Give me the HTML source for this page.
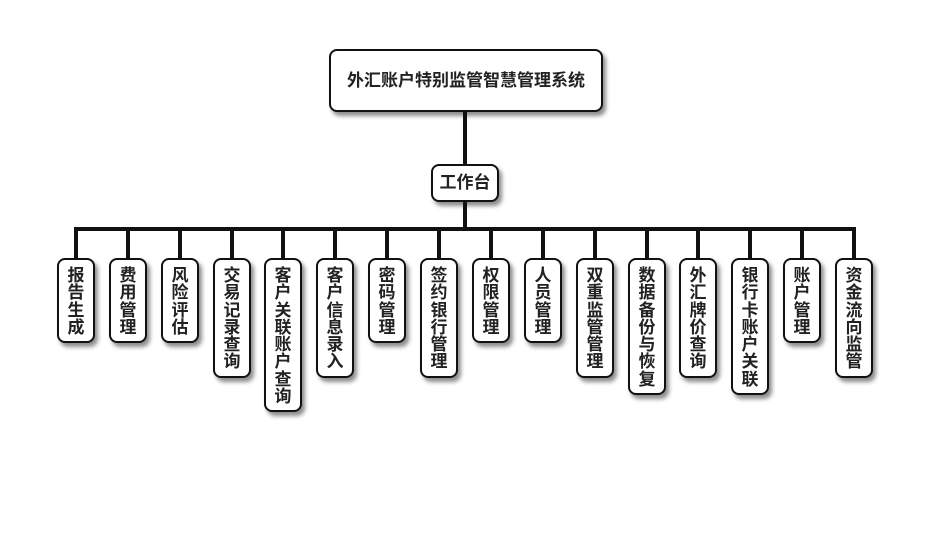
<!DOCTYPE html>
<html><head><meta charset="utf-8"><style>
body{margin:0;background:#fff;width:930px;height:560px;position:relative;overflow:hidden;font-family:"Liberation Sans","Noto Sans CJK SC",sans-serif;}
.b{position:absolute;background:#fff;border:2px solid #111;border-radius:8px;box-sizing:border-box;box-shadow:3px 4px 4px rgba(0,0,0,0.45);color:#222;font-weight:bold;}
.l{position:absolute;background:#111;}
.v{width:38px;top:258px;font-size:17px;line-height:17.25px;text-align:center;padding-top:7px;}
.v span{display:block;width:1em;margin:0 auto;word-break:break-all;}
</style></head><body>
<div class="b" style="left:329px;top:49px;width:274px;height:63px;font-size:17px;line-height:59px;text-align:center;">外汇账户特别监管智慧管理系统</div>
<div class="l" style="left:463px;top:112px;width:4px;height:52px"></div>
<div class="b" style="left:431px;top:164px;width:68px;height:38px;font-size:17px;line-height:34px;text-align:center;">工作台</div>
<div class="l" style="left:463px;top:202px;width:4px;height:28px"></div>
<div class="l" style="left:74px;top:227px;width:782px;height:4px"></div>
<div id="c"></div>
<script>
var t=["报告生成","费用管理","风险评估","交易记录查询","客户关联账户查询","客户信息录入","密码管理","签约银行管理","权限管理","人员管理","双重监管管理","数据备份与恢复","外汇牌价查询","银行卡账户关联","账户管理","资金流向监管"];
var h="";
for(var i=0;i<t.length;i++){var cx=Math.round(76+51.87*i);
h+='<div class="l" style="left:'+(cx-2)+'px;top:229px;width:4px;height:30px"></div>';
h+='<div class="b v" style="left:'+(cx-19)+'px;height:'+Math.round(16+17.25*t[i].length)+'px"><span>'+t[i]+'</span></div>';}
document.getElementById("c").innerHTML=h;
</script>
</body></html>
